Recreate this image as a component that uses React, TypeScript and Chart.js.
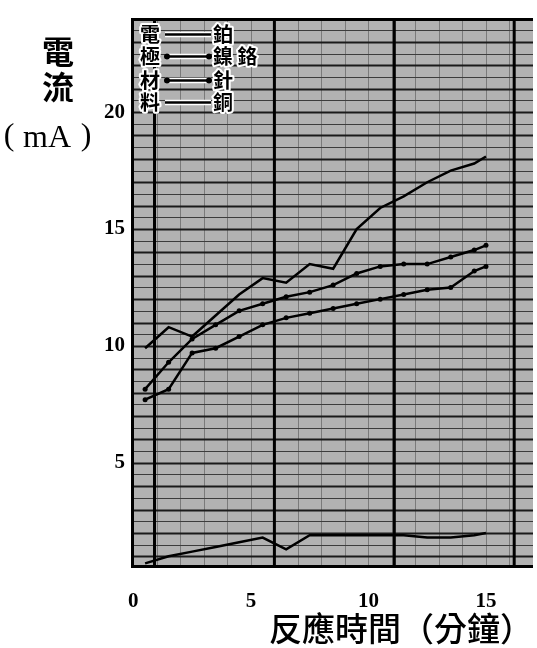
import React, { useEffect, useRef } from "react";
import { Chart, registerables } from "chart.js";

Chart.register(...registerables);

// Reaction time (minutes)
const times = [0.5, 1.5, 2.5, 3.5, 4.5, 5.5, 6.5, 7.5, 8.5, 9.5, 10.5, 11.5, 12.5, 13.5, 14.5, 15];
// Current (mA) per electrode material
const platinum = [9.9, 10.8, 10.4, 11.3, 12.2, 12.9, 12.7, 13.5, 13.3, 15.0, 15.9, 16.4, 17.0, 17.5, 17.8, 18.1];
const nichrome = [8.15, 9.3, 10.3, 10.9, 11.5, 11.8, 12.1, 12.3, 12.6, 13.1, 13.4, 13.5, 13.5, 13.8, 14.1, 14.3];
const needle = [7.7, 8.15, 9.7, 9.9, 10.4, 10.9, 11.2, 11.4, 11.6, 11.8, 12.0, 12.2, 12.4, 12.5, 13.2, 13.4];
const copper = [0.7, 1.0, 1.2, 1.4, 1.6, 1.8, 1.3, 1.9, 1.9, 1.9, 1.9, 1.9, 1.8, 1.8, 1.9, 2.0];

const seriesNames = ["鉑", "鎳 鉻", "針", "銅"];
const legendTitle = ["電", "極", "材", "料"];
const xTickValues = [0, 5, 10, 15];
const yTickValues = [5, 10, 15, 20];
const majorGridX = [0.9, 6, 11.1, 16.2];
const yTitleLines = ["電", "流"];
const yTitleUnit = ["(", "mA", ")"];
const xTitle = "反應時間（分鐘）";

const toPoints = (vals: number[]) => vals.map((v, i) => ({ x: times[i], y: v }));

const paperPlugin = {
  id: "paper",
  beforeDatasetsDraw(chart: any) {
    const { ctx, chartArea: a, scales } = chart;
    const x = scales.x;
    const y = scales.y;
    ctx.save();
    ctx.fillStyle = "#b2b2b2";
    ctx.fillRect(a.left, a.top, a.right - a.left, a.bottom - a.top);
    // minor vertical lines
    ctx.strokeStyle = "#7a7a7a";
    ctx.lineWidth = 1;
    for (let v = 0; v <= 17; v += 1) {
      const px = Math.round(x.getPixelForValue(v)) + 0.5;
      if (px <= a.left || px >= a.right) continue;
      ctx.beginPath();
      ctx.moveTo(px, a.top);
      ctx.lineTo(px, a.bottom);
      ctx.stroke();
    }
    // horizontal lines
    for (let v = 1; v <= 23.6; v += 0.5) {
      const py = Math.round(y.getPixelForValue(v)) + 0.5;
      const whole = Math.abs(v - Math.round(v)) < 1e-6;
      ctx.strokeStyle = whole ? "#1a1a1a" : "#3c3c3c";
      ctx.lineWidth = whole ? 2 : 1.2;
      ctx.beginPath();
      ctx.moveTo(a.left, py);
      ctx.lineTo(a.right, py);
      ctx.stroke();
    }
    // major vertical lines
    ctx.strokeStyle = "#000";
    ctx.lineWidth = 3;
    majorGridX.forEach((v) => {
      const px = x.getPixelForValue(v);
      ctx.beginPath();
      ctx.moveTo(px, a.top);
      ctx.lineTo(px, a.bottom);
      ctx.stroke();
    });
    // frame
    ctx.lineWidth = 3;
    ctx.beginPath();
    ctx.moveTo(a.left + 1.5, a.top);
    ctx.lineTo(a.left + 1.5, a.bottom);
    ctx.moveTo(a.left, a.bottom - 1.5);
    ctx.lineTo(a.right, a.bottom - 1.5);
    ctx.moveTo(a.left, a.top + 1);
    ctx.lineTo(a.right, a.top + 1);
    ctx.stroke();
    ctx.restore();
  },
};

const legendPlugin = {
  id: "customLegend",
  afterDatasetsDraw(chart: any) {
    const { ctx, chartArea: a } = chart;
    ctx.save();
    const rows = [26, 48, 72, 94].map((r) => r + a.top - 10);
    ctx.font = "bold 20px 'Noto Sans CJK TC'";
    ctx.textBaseline = "middle";
    ctx.textAlign = "left";
    ctx.lineJoin = "round";
    const halo = (t: string, px: number, py: number) => {
      ctx.strokeStyle = "#fff";
      ctx.lineWidth = 4;
      ctx.strokeText(t, px, py);
      ctx.fillStyle = "#000";
      ctx.fillText(t, px, py);
    };
    legendTitle.forEach((ch, i) => halo(ch, a.left + 9, rows[i]));
    chart.data.datasets.forEach((ds: any, i: number) => {
      const y0 = rows[i];
      const x0 = a.left + 34;
      const x1 = a.left + 80;
      ctx.strokeStyle = "#fff";
      ctx.lineWidth = ds.borderWidth + 3;
      ctx.beginPath();
      ctx.moveTo(x0, y0);
      ctx.lineTo(x1, y0);
      ctx.stroke();
      ctx.strokeStyle = ds.borderColor;
      ctx.lineWidth = ds.borderWidth;
      ctx.beginPath();
      ctx.moveTo(x0, y0);
      ctx.lineTo(x1, y0);
      ctx.stroke();
      if (ds.pointRadius > 0) {
        ctx.fillStyle = ds.pointBackgroundColor;
        [x0 + 2, x1 - 2].forEach((px) => {
          ctx.beginPath();
          ctx.arc(px, y0, ds.pointRadius + 0.5, 0, Math.PI * 2);
          ctx.fill();
        });
      }
      halo(ds.label, a.left + 82, y0);
    });
    ctx.restore();
  },
};

const titlePlugin = {
  id: "titles",
  afterDraw(chart: any) {
    const { ctx } = chart;
    ctx.save();
    ctx.fillStyle = "#000";
    ctx.textAlign = "center";
    ctx.textBaseline = "middle";
    ctx.font = "bold 32px 'Noto Sans CJK TC'";
    ctx.fillText(yTitleLines[0], 58, 52);
    ctx.fillText(yTitleLines[1], 58, 87);
    ctx.font = "32px 'Liberation Serif'";
    ctx.fillText(yTitleUnit[0], 9, 137);
    ctx.fillText(yTitleUnit[1], 47, 139);
    ctx.fillText(yTitleUnit[2], 86, 137);
    ctx.font = "500 33px 'Noto Sans CJK TC'";
    ctx.fillText(xTitle, 401, 628);
    ctx.restore();
  },
};

export default function App() {
  const ref = useRef<HTMLCanvasElement | null>(null);
  useEffect(() => {
    if (!ref.current) return;
    const mk = (label: string, vals: number[], marker: boolean) => ({
      label,
      data: toPoints(vals),
      borderColor: "#000",
      backgroundColor: "#000",
      borderWidth: 2.5,
      pointRadius: marker ? 2.5 : 0,
      pointBackgroundColor: "#000",
      pointBorderWidth: 0,
      tension: 0,
      fill: false,
    });
    const chart = new Chart(ref.current, {
      type: "line",
      data: {
        datasets: [
          mk(seriesNames[0], platinum, false),
          mk(seriesNames[1], nichrome, true),
          mk(seriesNames[2], needle, true),
          mk(seriesNames[3], copper, false),
        ],
      },
      options: {
        responsive: false,
        animation: false,
        layout: { padding: { left: 0, right: 0, top: 10, bottom: 0 } },
        plugins: { legend: { display: false }, tooltip: { enabled: false } },
        scales: {
          x: {
            type: "linear",
            min: -0.1,
            max: 17,
            grid: { display: false, drawTicks: false },
            border: { display: false },
            afterBuildTicks: (s: any) => {
              s.ticks = xTickValues.map((v) => ({ value: v }));
            },
            afterFit: (s: any) => {
              s.height = 80;
            },
            ticks: {
              padding: 21,
              color: "#000",
              maxRotation: 0,
              autoSkip: false,
              font: { family: "'Liberation Serif'", size: 21, weight: "bold" },
            },
          },
          y: {
            type: "linear",
            min: 0.5,
            max: 24,
            grid: { display: false, drawTicks: false },
            border: { display: false },
            afterBuildTicks: (s: any) => {
              s.ticks = yTickValues.map((v) => ({ value: v }));
            },
            afterFit: (s: any) => {
              s.width = 131;
            },
            ticks: {
              padding: 6,
              color: "#000",
              autoSkip: false,
              font: { family: "'Liberation Serif'", size: 21, weight: "bold" },
            },
          },
        },
      },
      plugins: [paperPlugin, legendPlugin, titlePlugin],
    });
    return () => chart.destroy();
  }, []);
  return (
    <div style={{ position: "absolute", left: 0, top: 0, width: 537, height: 648, background: "#fff" }}>
      <canvas ref={ref} width={537} height={648} style={{ display: "block", width: 537, height: 648 }} />
    </div>
  );
}
